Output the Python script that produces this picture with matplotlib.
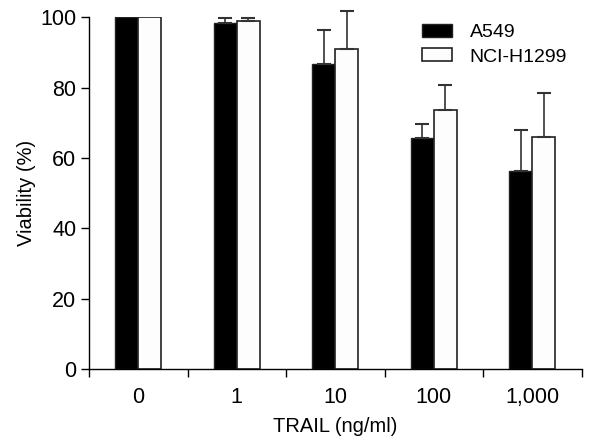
import numpy as np
import matplotlib
matplotlib.use("Agg")
import matplotlib.pyplot as plt

# TRAIL dose groups
doses = ["0", "1", "10", "100", "1,000"]
a549 = [100, 98.4, 86.7, 65.7, 56.3]
a549_err = [0, 1.5, 9.6, 3.9, 11.7]
h1299 = [100, 98.9, 91.0, 73.6, 66.0]
h1299_err = [0, 1.0, 10.9, 7.0, 12.6]

plt.rcParams['font.family'] = ['Liberation Sans', 'DejaVu Sans']

fig = plt.figure(figsize=(5.93, 4.41), dpi=100)
ax = fig.add_axes([0.150, 0.163, 0.831, 0.798])

x = np.arange(len(doses))
w = 0.233
err_kw = dict(ecolor='#333333', elinewidth=1.2, capsize=5, capthick=1.5)

ax.bar(x - w/2, a549, w, color='black', edgecolor='#222222', linewidth=1.0, label='A549')
ax.bar(x + w/2, h1299, w, color='#fdfdfd', edgecolor='#222222', linewidth=1.2, label='NCI-H1299')

# one-sided (upper) error bars, skip groups without error
for xs, vals, errs in [(x - w/2, a549, a549_err), (x + w/2, h1299, h1299_err)]:
    m = np.array(errs) > 0
    ax.errorbar(xs[m], np.array(vals)[m], yerr=[np.zeros(m.sum()), np.array(errs)[m]],
                fmt='none', clip_on=False, **err_kw)

ax.set_xlim(-0.5, 4.5)
ax.set_ylim(0, 100)
ax.spines['top'].set_visible(False)
ax.spines['right'].set_visible(False)
for s in ['left', 'bottom']:
    ax.spines[s].set_linewidth(1.0)

ax.set_yticks([0, 20, 40, 60, 80, 100])
ax.set_xticks(x)
ax.set_xticklabels(doses)
ax.set_xticks(np.arange(-0.5, 5, 1), minor=True)
ax.tick_params(axis='x', which='major', length=0, pad=13, labelsize=15.5)
ax.tick_params(axis='x', which='minor', length=6, width=1.0, direction='out')
ax.tick_params(axis='y', length=6, width=1.0, labelsize=15.5, pad=3)

ax.set_xlabel("TRAIL (ng/ml)", fontsize=14.5, labelpad=6)
ax.set_ylabel("Viability (%)", fontsize=14.5, labelpad=3)

ax.legend(loc='upper left', bbox_to_anchor=(0.64, 1.03), frameon=False, fontsize=14,
          handlelength=1.55, handleheight=0.65, handletextpad=0.9, labelspacing=0.35)

fig.savefig("out.png", dpi=100)
